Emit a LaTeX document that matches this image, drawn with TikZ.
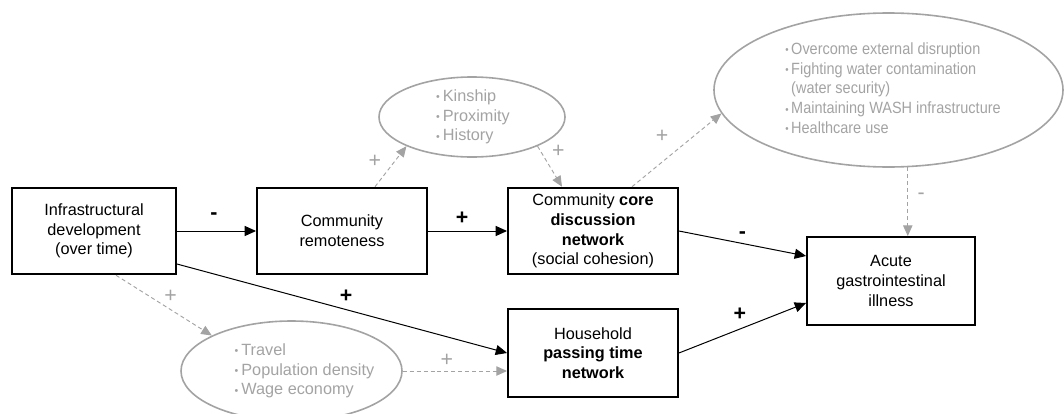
\documentclass[tikz,border=0pt]{standalone}
\usepackage{fontspec}
\setmainfont{Liberation Sans}
\usepackage{xcolor}
\usetikzlibrary{arrows.meta,shapes.geometric}
\definecolor{softgray}{RGB}{163,163,163}
\tikzset{box/.style={rectangle,draw=black,line width=1.4pt,align=center,minimum height=65pt,inner sep=3pt}}
\tikzset{cloud/.style={ellipse,draw=softgray,line width=1.2pt,inner sep=0pt}}
\tikzset{bullets/.style={text=softgray,align=left,inner sep=0pt}}
\tikzset{arr/.style={-{Triangle[length=8.5pt,width=7.5pt]},line width=0.75pt}}
\tikzset{garr/.style={-{Triangle[length=8pt,width=7pt]},color=softgray,line width=0.7pt,dash pattern=on 3pt off 2.2pt}}
\newcommand{\Ssign}[1]{{\fontsize{16}{18}\selectfont\textbf{#1}}}
\newcommand{\Sgsign}[1]{{\fontsize{16}{18}\selectfont\textcolor{softgray}{#1}}}
\newcommand{\Sitem}{\raisebox{0.4pt}{\footnotesize\textbullet}\hspace{2.2pt}}

\begin{document}
\begin{tikzpicture}[x=0.75pt,y=-0.75pt,font=\fontsize{12.2}{14.8}\selectfont]
\useasboundingbox (0,0) rectangle (1064,414);
% main boxes
\node (infra) [box,minimum width=123pt] at (94,231) {Infrastructural\\development\\(over time)};
\node (remote) [box,minimum width=127.5pt] at (342,231) {Community\\remoteness};
\node (core) [box,minimum width=127.5pt] at (593,231) {Community \textbf{core}\\\textbf{discussion}\\\textbf{network}\\(social cohesion)};
\node (house) [box,minimum width=127.5pt,minimum height=66pt] at (593,353) {Household\\\textbf{passing time}\\\textbf{network}};
\node (acute) [box,minimum width=126pt,minimum height=66pt] at (891,281) {Acute\\gastrointestinal\\illness};
%
% gray clouds
\node (kin) [cloud,minimum width=139.5pt,minimum height=60pt] at (472,117) {};
\node (kintxt) [bullets] at (473,117) {\Sitem Kinship\\\Sitem Proximity\\\Sitem History};
\node (disrupt) [cloud,minimum width=261.75pt,minimum height=115.5pt] at (888.5,90) {};
\node (disrupttxt) [bullets,xscale=0.89,transform shape] at (893,88) {\Sitem Overcome external disruption\\\Sitem Fighting water contamination\\\phantom{\Sitem}(water security)\\\Sitem Maintaining WASH infrastructure\\\Sitem Healthcare use};
\node (travel) [cloud,minimum width=165.75pt,minimum height=75pt] at (291.5,371) {};
\node (traveltxt) [bullets] at (304.5,371) {\Sitem Travel\\\Sitem Population density\\\Sitem Wage economy};
%
\path[arr] (infra) edge node[xshift=-2pt,yshift=11pt] {\Ssign{-}} (remote);
\path[arr] (remote) edge node[xshift=-4pt,yshift=9.5pt] {\Ssign{+}} (core);
\path[arr] (core.east) edge node[yshift=6.5pt] {\Ssign{-}} ([yshift=18.75pt]acute.west);
\path[arr] (house.east) edge node[xshift=-2pt,yshift=10.5pt] {\Ssign{+}} ([yshift=-16.5pt]acute.west);
\path[arr] ([yshift=-24.75pt]infra.east) edge node[xshift=3pt,yshift=9.5pt] {\Ssign{+}} (house.west);
%
\path[garr] ([xshift=24.75pt]remote.north) edge node[xshift=-12pt,yshift=3.5pt] {\Sgsign{+}} (kin.204);
\path[garr] (kin.336) edge node[xshift=6.5pt,yshift=11pt] {\Sgsign{+}} ([xshift=-23.25pt]core.north);
\path[garr] ([xshift=29.25pt]core.north) edge node[xshift=-11pt,yshift=10pt] {\Sgsign{+}} (disrupt.188);
\path[garr] (disrupt.-76) edge node[xshift=10pt,yshift=4pt] {\Sgsign{-}} (disrupt.-76 |- acute.north);
\path[garr] ([xshift=16.5pt]infra.south) edge node[xshift=5pt,yshift=6.5pt] {\Sgsign{+}} (travel.156);
\path[garr] (travel.east) edge node[xshift=-6pt,yshift=8pt] {\Sgsign{+}} (travel.east -| house.west);
\end{tikzpicture}
\end{document}
